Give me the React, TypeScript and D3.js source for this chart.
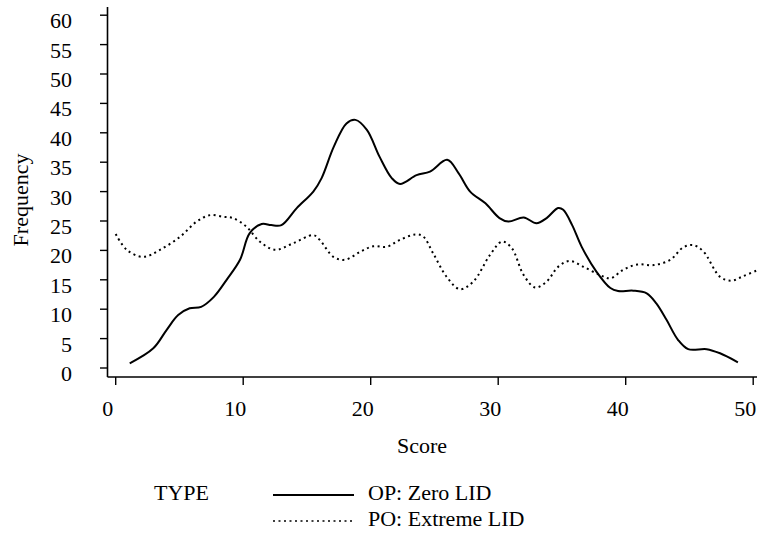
import React from "react";
import * as d3 from "d3";

const opX = [1.1, 2.95, 4.0, 4.9, 5.8, 6.7, 7.7, 8.7, 9.75, 10.5, 11.45, 12.2, 13.0, 14.2, 15.5, 16.15, 17.1, 18.1, 18.8, 19.7, 20.7, 21.65, 22.3, 23.6, 24.65, 26.0, 26.9, 27.8, 29.0, 30.1, 30.8, 32.0, 33.0, 33.8, 34.7, 35.1, 35.8, 36.55, 37.7, 38.8, 39.4, 40.6, 41.65, 42.4, 43.2, 44.1, 44.9, 46.35, 47.4, 48.8];
const opY = [0.8, 3.35, 6.5, 9.0, 10.15, 10.4, 12.1, 15.0, 18.4, 22.9, 24.5, 24.3, 24.3, 27.2, 30.0, 32.3, 37.6, 41.6, 42.2, 40.5, 35.9, 32.3, 31.3, 32.8, 33.4, 35.4, 33.1, 30.0, 28.0, 25.5, 24.9, 25.6, 24.6, 25.5, 27.2, 26.9, 24.3, 20.6, 16.4, 13.6, 13.1, 13.15, 12.7, 11.0, 8.2, 4.8, 3.2, 3.2, 2.5, 0.97];

const poX = [0, 0.86, 2.16, 3.47, 5.04, 6.35, 7.4, 8.44, 9.2, 10.27, 11.3, 12.5, 13.9, 15.5, 16.0, 17.07, 17.98, 19.2, 20.2, 21.25, 22.3, 23.5, 24.1, 24.9, 25.96, 27.0, 28.05, 29.35, 30.3, 31.06, 32.0, 32.9, 33.8, 34.7, 35.6, 36.7, 38.0, 38.8, 39.8, 40.9, 42.2, 43.5, 44.5, 45.3, 46.1, 47.4, 48.3, 49.2, 50.3];
const poY = [22.8, 20.1, 18.9, 20.1, 22.3, 24.9, 26.0, 25.7, 25.5, 24.0, 21.5, 20.1, 21.2, 22.6, 21.8, 18.9, 18.4, 19.8, 20.7, 20.6, 21.8, 22.7, 22.4, 19.5, 15.5, 13.4, 14.7, 19.2, 21.5, 20.4, 15.8, 13.7, 14.7, 17.2, 18.2, 17.2, 15.8, 15.25, 16.7, 17.6, 17.5, 18.4, 20.5, 20.9, 19.8, 15.5, 14.85, 15.6, 16.6];

const xTicks = [0, 10, 20, 30, 40, 50];
const yTicks = [0, 5, 10, 15, 20, 25, 30, 35, 40, 45, 50, 55, 60];

const seriesNames = ["OP: Zero LID", "PO: Extreme LID"];
const legendTitle = "TYPE";
const xTitle = "Score";
const yTitle = "Frequency";

const W = 757;
const H = 542;
const FONT = "'Liberation Serif', 'Times New Roman', serif";

export default function App() {
  const x = d3.scaleLinear().domain([0, 50]).range([115.7, 753.2]);
  const y = d3.scaleLinear().domain([0, 60]).range([368, 15.2]);

  const line = d3
    .line<[number, number]>()
    .x((d) => x(d[0]))
    .y((d) => y(d[1]))
    .curve(d3.curveCatmullRom.alpha(0.5));

  const opPts: [number, number][] = opX.map((v, i) => [v, opY[i]]);
  const poPts: [number, number][] = poX.map((v, i) => [v, poY[i]]);

  const axisX = 107.5;
  const axisY = 377;

  return (
    <svg
      width={W}
      height={H}
      style={{ position: "absolute", left: 0, top: 0, background: "#fff" }}
      fontFamily={FONT}
    >
      <rect x={0} y={0} width={W} height={H} fill="#fff" />
      {/* Y axis */}
      <line x1={axisX} y1={7} x2={axisX} y2={axisY} stroke="#000" strokeWidth={1.6} />
      {yTicks.map((t) => (
        <g key={"y" + t}>
          <line x1={100} x2={axisX} y1={y(t)} y2={y(t)} stroke="#000" strokeWidth={1.4} />
          <text x={72} y={y(t) + 13} textAnchor="end" fontSize={22} fill="#000">
            {t}
          </text>
        </g>
      ))}
      {/* X axis */}
      <line x1={axisX} y1={axisY} x2={W} y2={axisY} stroke="#000" strokeWidth={1.6} />
      {xTicks.map((t) => (
        <g key={"x" + t}>
          <line x1={x(t)} x2={x(t)} y1={axisY} y2={385} stroke="#000" strokeWidth={1.4} />
          <text x={x(t) - 8} y={416} textAnchor="middle" fontSize={22} fill="#000">
            {t}
          </text>
        </g>
      ))}
      {/* Titles */}
      <text x={422} y={453} textAnchor="middle" fontSize={22} fill="#000">
        {xTitle}
      </text>
      <text
        transform="translate(28,200) rotate(-90)"
        textAnchor="middle"
        fontSize={22}
        fill="#000"
      >
        {yTitle}
      </text>
      {/* Curves */}
      <path d={line(opPts) || ""} fill="none" stroke="#000" strokeWidth={2} />
      <path
        d={line(poPts) || ""}
        fill="none"
        stroke="#000"
        strokeWidth={2}
        strokeDasharray="2 3.5"
      />
      {/* Legend */}
      <text x={154} y={500} fontSize={22} fill="#000">
        {legendTitle}
      </text>
      <line x1={273} x2={354} y1={495} y2={495} stroke="#000" strokeWidth={1.8} />
      <text x={368} y={500} fontSize={22} fill="#000">
        {seriesNames[0]}
      </text>
      <line
        x1={273}
        x2={354}
        y1={521}
        y2={521}
        stroke="#000"
        strokeWidth={1.6}
        strokeDasharray="2 3.5"
      />
      <text x={368} y={526} fontSize={22} fill="#000">
        {seriesNames[1]}
      </text>
    </svg>
  );
}
